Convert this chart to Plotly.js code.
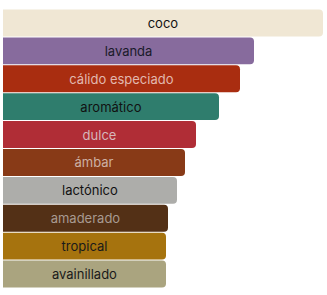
<!DOCTYPE html>
<html>
<head>
<meta charset="utf-8">
<script src="https://cdn.plot.ly/plotly-3.0.1.min.js"></script>
<style>html,body{margin:0;padding:0;background:#fff;}#chart{width:327px;height:295px;}</style>
</head>
<body>
<div id="chart"></div>
<script>
var categories = ["coco","lavanda","cálido especiado","aromático","dulce","ámbar","lactónico","amaderado","tropical","avainillado"];
var values = [320, 251, 237, 216, 193, 182, 174, 165, 163, 163];
var barColors = ["#f0e7d4","#876b9d","#a92d10","#2f7d6d","#b02d36","#883a17","#adadaa","#533016","#a6730e","#aaa47f"];
var textColors = ["#111111","#1a1a2a","#e2b8ae","#111111","#d6b7ba","#cdb0a3","#111111","#a89a91","#1a1a1a","#1a1a1a"];

var trace = {
  type: "bar",
  orientation: "h",
  x: values,
  y: categories,
  text: categories,
  textposition: "inside",
  insidetextanchor: "middle",
  textangle: 0,
  textfont: {family: "Inter, sans-serif", size: 13, color: textColors},
  marker: {color: barColors, cornerradius: 4, line: {width: 0}},
  hoverinfo: "none"
};

var layout = {
  width: 327, height: 295,
  margin: {l: 3, r: 4, t: 9, b: 7},
  paper_bgcolor: "#ffffff",
  plot_bgcolor: "#ffffff",
  bargap: 0.035,
  showlegend: false,
  xaxis: {visible: false, range: [0, 320], fixedrange: true},
  yaxis: {visible: false, autorange: "reversed", fixedrange: true}
};

Plotly.newPlot("chart", [trace], layout, {displayModeBar: false, staticPlot: true});
</script>
</body>
</html>
